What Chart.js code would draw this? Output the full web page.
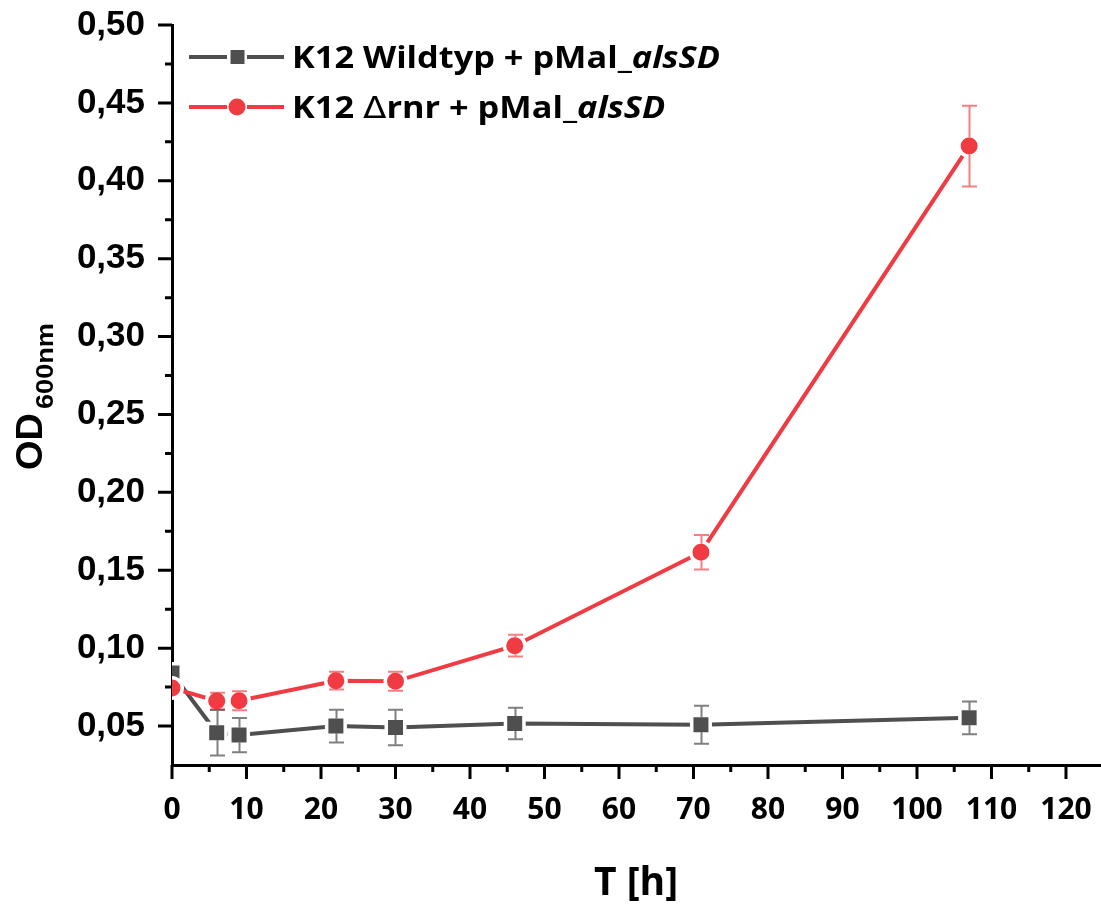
<!DOCTYPE html>
<html>
<head>
<meta charset="utf-8">
<script src="https://cdn.jsdelivr.net/npm/chart.js@4"></script>
<style>
  html, body { margin: 0; padding: 0; background: #fff; overflow: hidden; }
  canvas { display: block; }
</style>
</head>
<body>
<canvas id="c" width="1101" height="904"></canvas>
<script>
// Growth curves: optical density over time (mean ± SD)
const timeH      = [0, 6, 9, 22, 30, 46, 71, 107];
const wildtypOD  = [0.0840, 0.0457, 0.0442, 0.0500, 0.0491, 0.0517, 0.0508, 0.0553];
const wildtypSD  = [0, 0.0146, 0.0110, 0.0105, 0.0114, 0.0101, 0.0122, 0.0105];
const rnrOD      = [0.0744, 0.0661, 0.0663, 0.0791, 0.0787, 0.1016, 0.1616, 0.4223];
const rnrSD      = [0, 0.0053, 0.0061, 0.0057, 0.0061, 0.0070, 0.0111, 0.0259];

const xTickValues = [0, 10, 20, 30, 40, 50, 60, 70, 80, 90, 100, 110, 120];
const yTickValues = [0.05, 0.10, 0.15, 0.20, 0.25, 0.30, 0.35, 0.40, 0.45, 0.50];

// legend text split into runs: [text, style]
const legendRuns = [
  [['K12 Wildtyp + pMal_', 'b'], ['alsSD', 'bi']],
  [['K12 ', 'b'], ['\u0394', 'n'], ['rnr + pMal_', 'b'], ['alsSD', 'bi']]
];
const xTitle = 'T [h]';
const yTitleMain = 'OD';
const yTitleSub = '600nm';

const GRAY = '#4f4f4f';
const RED = '#ef3b41';
const GRAY_ERR = 'rgba(79,79,79,0.72)';
const RED_ERR = 'rgba(239,59,65,0.65)';

const toPoints = (ys) => timeH.map((x, i) => ({ x: x, y: ys[i] }));

// error bars, drawn from the marker edge outwards
const errorBars = {
  id: 'errorBars',
  afterDatasetsDraw(chart) {
    const ctx = chart.ctx, area = chart.chartArea;
    const xs = chart.scales.x, ys = chart.scales.y;
    ctx.save();
    ctx.beginPath();
    ctx.rect(area.left, area.top, area.right - area.left, area.bottom - area.top);
    ctx.clip();
    chart.data.datasets.forEach((ds) => {
      ctx.strokeStyle = ds.errColor;
      ctx.lineWidth = 2;
      ds.data.forEach((p, i) => {
        const sd = ds.sd[i];
        if (!sd) return;
        const px = Math.round(xs.getPixelForValue(p.x)) + 0.5;
        const cy = ys.getPixelForValue(p.y);
        const top = ys.getPixelForValue(p.y + sd);
        const bot = ys.getPixelForValue(p.y - sd);
        const h = ds.markerHalf;
        ctx.beginPath();
        if (top < cy - h) { ctx.moveTo(px, top); ctx.lineTo(px, cy - h); }
        if (bot > cy + h) { ctx.moveTo(px, cy + h); ctx.lineTo(px, bot); }
        ctx.moveTo(px - 7.5, top); ctx.lineTo(px + 7.5, top);
        ctx.moveTo(px - 7.5, bot); ctx.lineTo(px + 7.5, bot);
        ctx.stroke();
      });
    });
    ctx.restore();
  }
};

// major / minor tick marks on the outside of both axes
const axisTicks = {
  id: 'axisTicks',
  afterDraw(chart) {
    const ctx = chart.ctx, area = chart.chartArea;
    const xs = chart.scales.x, ys = chart.scales.y;
    ctx.save();
    ctx.strokeStyle = '#000';
    ctx.lineWidth = 3;
    ctx.beginPath();
    for (let v = 0; v <= xs.max + 1e-9; v += 5) {
      const px = xs.getPixelForValue(v);
      if (px > area.right) break;
      const major = Math.round(v) % 10 === 0;
      ctx.moveTo(px, area.bottom);
      ctx.lineTo(px, area.bottom + (major ? 14 : 7));
    }
    for (let k = 2; k <= 20; k++) {
      const v = k * 0.025;
      const py = ys.getPixelForValue(v);
      const major = k % 2 === 0;
      ctx.moveTo(area.left, py);
      ctx.lineTo(area.left - (major ? 14 : 7), py);
    }
    ctx.stroke();
    ctx.restore();
  }
};

// draw text squeezed or stretched to a given advance width
function fitText(ctx, text, x, y, width) {
  const w = ctx.measureText(text).width;
  ctx.save();
  ctx.translate(x, y);
  ctx.scale(width / w, 1);
  ctx.fillText(text, 0, 0);
  ctx.restore();
}

const runFont = {
  b: 'bold 31px "Open Sans"',
  bi: 'italic bold 31px "Open Sans"',
  n: '31px "DejaVu Sans"'
};

function runsWidth(ctx, runs) {
  let w = 0;
  runs.forEach(([t, s]) => { ctx.font = runFont[s]; w += ctx.measureText(t).width; });
  return w;
}

// axis titles and the legend block
const annotations = {
  id: 'annotations',
  afterDraw(chart) {
    const ctx = chart.ctx;
    const ds = chart.data.datasets;
    ctx.save();
    ctx.fillStyle = '#000';
    ctx.textBaseline = 'alphabetic';

    // x title
    ctx.font = 'bold 39px "Open Sans"';
    ctx.textAlign = 'center';
    ctx.fillText(xTitle, 636, 895);

    // y title, rotated, with subscript
    ctx.save();
    ctx.translate(42, 470);
    ctx.rotate(-Math.PI / 2);
    ctx.textAlign = 'left';
    ctx.font = 'bold 37px "Liberation Sans"';
    fitText(ctx, yTitleMain, 0, 0, 57);
    ctx.font = 'bold 23px "Liberation Sans"';
    fitText(ctx, yTitleSub, 61, 11, 86);
    ctx.restore();

    // legend: wild type first, then the deletion strain
    const entries = [ds[1], ds[0]];
    const rows = [57, 107];
    const textX = 292;
    ctx.textAlign = 'left';
    const stretch = 428 / runsWidth(ctx, legendRuns[0]);

    entries.forEach((d, i) => {
      const cy = rows[i];
      ctx.strokeStyle = d.borderColor;
      ctx.lineWidth = 4;
      ctx.beginPath();
      ctx.moveTo(189, cy); ctx.lineTo(227, cy);
      ctx.moveTo(247, cy); ctx.lineTo(284, cy);
      ctx.stroke();
      ctx.fillStyle = d.pointBackgroundColor;
      ctx.beginPath();
      if (d.pointStyle === 'rect') {
        ctx.rect(230.5, cy - 7, 14, 14);
      } else {
        ctx.arc(237, cy, 8.5, 0, Math.PI * 2);
      }
      ctx.fill();

      ctx.fillStyle = '#000';
      ctx.save();
      ctx.translate(textX, cy + 11);
      ctx.scale(stretch, 1);
      let x = 0;
      legendRuns[i].forEach(([t, s]) => {
        ctx.font = runFont[s];
        ctx.fillText(t, x, 0);
        x += ctx.measureText(t).width;
      });
      ctx.restore();
    });
    ctx.restore();
  }
};

new Chart(document.getElementById('c'), {
  type: 'line',
  data: {
    datasets: [
      {
        label: 'K12 \u0394rnr + pMal_alsSD',
        data: toPoints(rnrOD),
        sd: rnrSD,
        errColor: RED_ERR,
        markerHalf: 8.5,
        borderColor: RED,
        borderWidth: 4,
        pointStyle: 'circle',
        pointRadius: 10.25,
        pointHoverRadius: 10.25,
        pointBackgroundColor: RED,
        pointBorderColor: '#ffffff',
        pointBorderWidth: 3.5,
        tension: 0
      },
      {
        label: 'K12 Wildtyp + pMal_alsSD',
        data: toPoints(wildtypOD),
        sd: wildtypSD,
        errColor: GRAY_ERR,
        markerHalf: 7.5,
        borderColor: GRAY,
        borderWidth: 4,
        pointStyle: 'rect',
        pointRadius: 13.08,
        pointHoverRadius: 13.08,
        pointBackgroundColor: GRAY,
        pointBorderColor: '#ffffff',
        pointBorderWidth: 3.5,
        tension: 0
      }
    ]
  },
  options: {
    responsive: false,
    animation: false,
    devicePixelRatio: 1,
    layout: { autoPadding: false, padding: { top: 25, left: 0, right: 0, bottom: 0 } },
    plugins: { legend: { display: false }, tooltip: { enabled: false } },
    scales: {
      x: {
        type: 'linear',
        min: 0,
        max: 124.7,
        afterBuildTicks: (s) => { s.ticks = xTickValues.map(v => ({ value: v })); },
        afterFit: (s) => { s.height = 139; s.paddingLeft = 0; s.paddingRight = 0; },
        grid: { display: false, drawTicks: false },
        border: { display: true, color: '#000', width: 3 },
        ticks: {
          padding: 27,
          color: '#000',
          font: { family: '"Open Sans"', size: 30, weight: 'bold' },
          maxRotation: 0,
          autoSkip: false,
          callback: (v) => String(v)
        }
      },
      y: {
        type: 'linear',
        min: 0.025,
        max: 0.5,
        afterBuildTicks: (s) => { s.ticks = yTickValues.map(v => ({ value: v })); },
        afterFit: (s) => { s.width = 172; s.paddingTop = 0; s.paddingBottom = 0; },
        grid: { display: false, drawTicks: false },
        border: { display: true, color: '#000', width: 3 },
        ticks: {
          padding: 27,
          color: '#000',
          font: { family: '"Liberation Sans"', size: 35, weight: 'bold' },
          autoSkip: false,
          callback: (v) => v.toFixed(2).replace('.', ',')
        }
      }
    }
  },
  plugins: [errorBars, axisTicks, annotations]
});
</script>
</body>
</html>
